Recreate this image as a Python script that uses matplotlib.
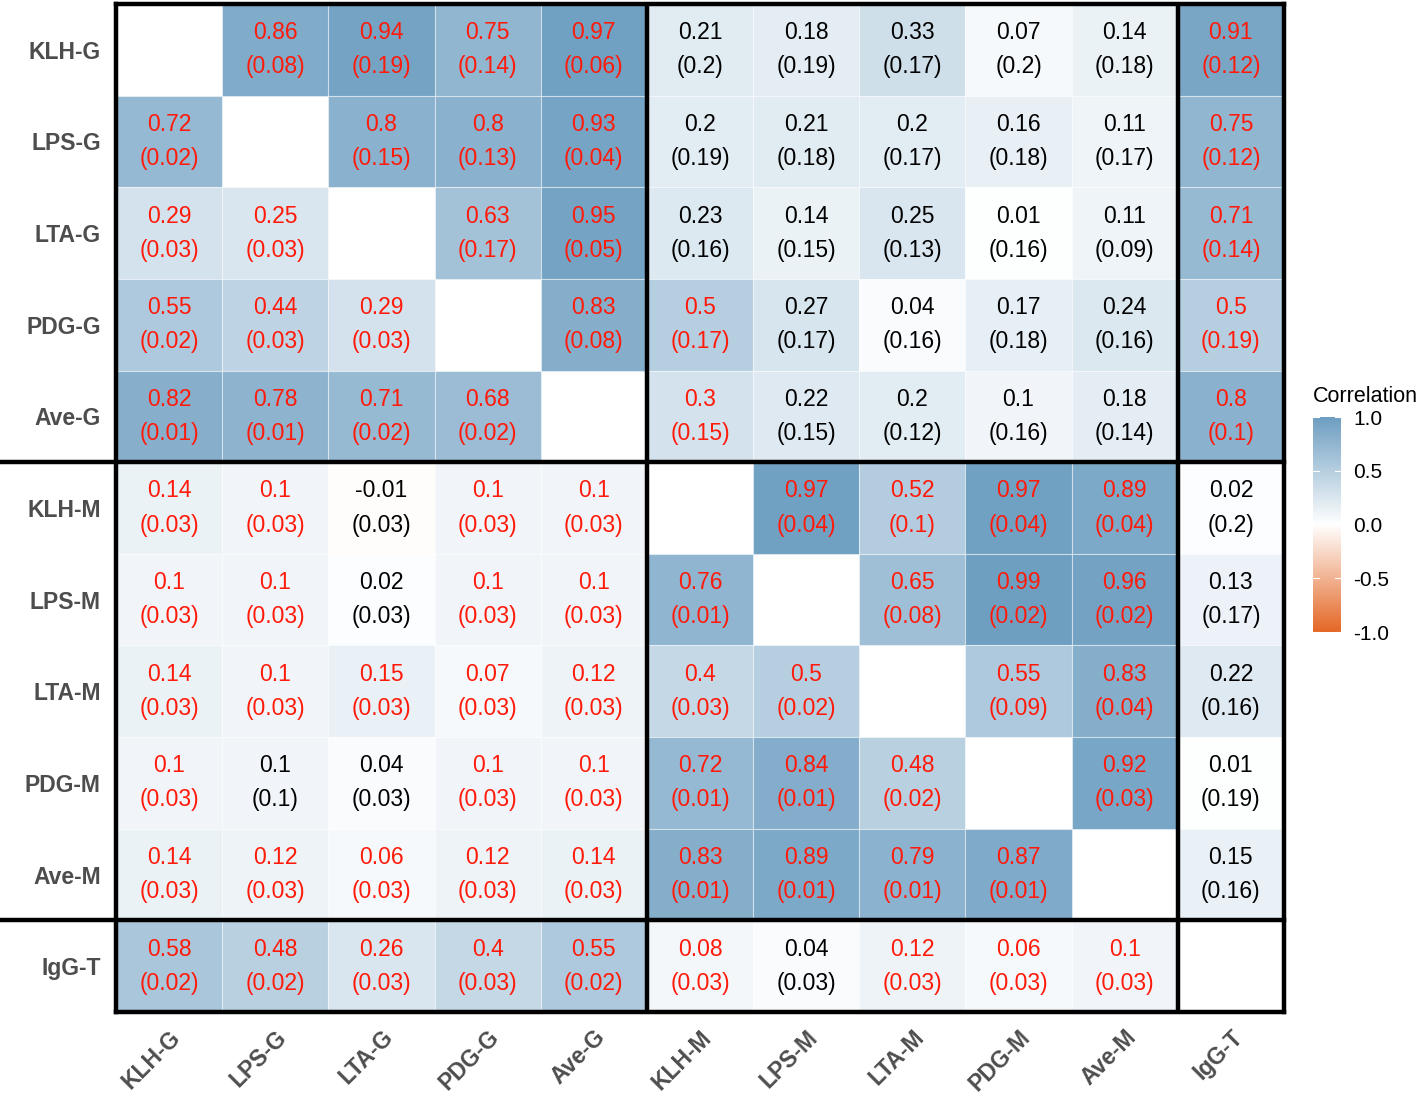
import numpy as np
import matplotlib
matplotlib.use("Agg")
import matplotlib.pyplot as plt
from matplotlib.colors import LinearSegmentedColormap, Normalize
from matplotlib.patches import Rectangle

plt.rcParams['font.family'] = ['Liberation Sans', 'DejaVu Sans']

labels = ["KLH-G", "LPS-G", "LTA-G", "PDG-G", "Ave-G",
          "KLH-M", "LPS-M", "LTA-M", "PDG-M", "Ave-M", "IgG-T"]

# correlation values (None = diagonal, blank)
corr = [
    [None, 0.86, 0.94, 0.75, 0.97, 0.21, 0.18, 0.33, 0.07, 0.14, 0.91],
    [0.72, None, 0.8, 0.8, 0.93, 0.2, 0.21, 0.2, 0.16, 0.11, 0.75],
    [0.29, 0.25, None, 0.63, 0.95, 0.23, 0.14, 0.25, 0.01, 0.11, 0.71],
    [0.55, 0.44, 0.29, None, 0.83, 0.5, 0.27, 0.04, 0.17, 0.24, 0.5],
    [0.82, 0.78, 0.71, 0.68, None, 0.3, 0.22, 0.2, 0.1, 0.18, 0.8],
    [0.14, 0.1, -0.01, 0.1, 0.1, None, 0.97, 0.52, 0.97, 0.89, 0.02],
    [0.1, 0.1, 0.02, 0.1, 0.1, 0.76, None, 0.65, 0.99, 0.96, 0.13],
    [0.14, 0.1, 0.15, 0.07, 0.12, 0.4, 0.5, None, 0.55, 0.83, 0.22],
    [0.1, 0.1, 0.04, 0.1, 0.1, 0.72, 0.84, 0.48, None, 0.92, 0.01],
    [0.14, 0.12, 0.06, 0.12, 0.14, 0.83, 0.89, 0.79, 0.87, None, 0.15],
    [0.58, 0.48, 0.26, 0.4, 0.55, 0.08, 0.04, 0.12, 0.06, 0.1, None],
]

# standard errors shown in parentheses
se = [
    [None, "0.08", "0.19", "0.14", "0.06", "0.2", "0.19", "0.17", "0.2", "0.18", "0.12"],
    ["0.02", None, "0.15", "0.13", "0.04", "0.19", "0.18", "0.17", "0.18", "0.17", "0.12"],
    ["0.03", "0.03", None, "0.17", "0.05", "0.16", "0.15", "0.13", "0.16", "0.09", "0.14"],
    ["0.02", "0.03", "0.03", None, "0.08", "0.17", "0.17", "0.16", "0.18", "0.16", "0.19"],
    ["0.01", "0.01", "0.02", "0.02", None, "0.15", "0.15", "0.12", "0.16", "0.14", "0.1"],
    ["0.03", "0.03", "0.03", "0.03", "0.03", None, "0.04", "0.1", "0.04", "0.04", "0.2"],
    ["0.03", "0.03", "0.03", "0.03", "0.03", "0.01", None, "0.08", "0.02", "0.02", "0.17"],
    ["0.03", "0.03", "0.03", "0.03", "0.03", "0.03", "0.02", None, "0.09", "0.04", "0.16"],
    ["0.03", "0.1", "0.03", "0.03", "0.03", "0.01", "0.01", "0.02", None, "0.03", "0.19"],
    ["0.03", "0.03", "0.03", "0.03", "0.03", "0.01", "0.01", "0.01", "0.01", None, "0.16"],
    ["0.02", "0.02", "0.03", "0.03", "0.02", "0.03", "0.03", "0.03", "0.03", "0.03", None],
]

# significance: 1 = red text, 0 = black text
sig = [
    [0, 1, 1, 1, 1, 0, 0, 0, 0, 0, 1],
    [1, 0, 1, 1, 1, 0, 0, 0, 0, 0, 1],
    [1, 1, 0, 1, 1, 0, 0, 0, 0, 0, 1],
    [1, 1, 1, 0, 1, 1, 0, 0, 0, 0, 1],
    [1, 1, 1, 1, 0, 1, 0, 0, 0, 0, 1],
    [1, 1, 0, 1, 1, 0, 1, 1, 1, 1, 0],
    [1, 1, 0, 1, 1, 1, 0, 1, 1, 1, 0],
    [1, 1, 1, 1, 1, 1, 1, 0, 1, 1, 0],
    [1, 0, 0, 1, 1, 1, 1, 1, 0, 1, 0],
    [1, 1, 1, 1, 1, 1, 1, 1, 1, 0, 0],
    [1, 1, 1, 1, 1, 1, 0, 1, 1, 1, 0],
]

group_breaks = [5, 10]
cbar_ticks = [1.0, 0.5, 0.0, -0.5, -1.0]

cmap = LinearSegmentedColormap.from_list("cor", ["#E46726", "#FFFFFF", "#6D9EC1"])
norm = Normalize(-1, 1)

W, H = 1418, 1095
fig = plt.figure(figsize=(W / 100, H / 100), dpi=100)
L, R, T, B = 116, 1284, 4, 1012
ax = fig.add_axes([L / W, 1 - B / H, (R - L) / W, (B - T) / H])
n = len(labels)
ax.set_xlim(0, n)
ax.set_ylim(n, 0)

for i in range(n):
    for j in range(n):
        v = corr[i][j]
        if v is None:
            continue
        ax.add_patch(Rectangle((j, i), 1, 1, facecolor=cmap(norm(v)),
                               edgecolor=(1, 1, 1, 0.45), linewidth=0.8))
        col = "#FF1A0A" if sig[i][j] else "black"
        ax.text(j + 0.5, i + 0.5, f"{v:g}\n({se[i][j]})", ha="center", va="center",
                fontsize=16.5, color=col, linespacing=1.62)

# thick block separators
lw = 3.2
for b in group_breaks:
    ax.plot([b, b], [0, n], color="black", lw=lw, solid_capstyle="projecting")
    ax.plot([-1.1, n], [b, b], color="black", lw=lw, clip_on=False,
            solid_capstyle="projecting")
for s in ax.spines.values():
    s.set_linewidth(lw)
    s.set_color("black")

ax.set_xticks(np.arange(n) + 0.5)
ax.set_yticks(np.arange(n) + 0.5)
ax.set_xticklabels(labels, rotation=45, ha="right", va="top", rotation_mode="anchor",
                   fontsize=16.5, fontweight="bold", color="#4D4D4D")
ax.set_yticklabels(labels, fontsize=16.5, fontweight="bold", color="#4D4D4D")
ax.tick_params(length=0)
ax.tick_params(axis="y", pad=11)
ax.tick_params(axis="x", pad=10)

# colorbar
cax = fig.add_axes([1313 / W, 1 - 632 / H, 28 / W, (632 - 417) / H])
grad = np.linspace(-1, 1, 256).reshape(-1, 1)
cax.imshow(grad, cmap=cmap, norm=norm, aspect="auto", origin="lower",
           extent=[0, 1, -1, 1])
cax.set_xticks([])
cax.yaxis.tick_right()
cax.set_yticks(cbar_ticks)
cax.set_yticklabels([f"{t:.1f}" for t in cbar_ticks], fontsize=15)
cax.tick_params(axis="y", length=0, pad=9)
for t in cbar_ticks:
    cax.plot([0, 0.2], [t, t], color="white", lw=0.8)
    cax.plot([0.8, 1], [t, t], color="white", lw=0.8)
for s in cax.spines.values():
    s.set_visible(False)
fig.text(1313 / W, 1 - 397 / H, "Correlation", fontsize=15.5, ha="left", va="center")

fig.savefig("out.png", dpi=100)
